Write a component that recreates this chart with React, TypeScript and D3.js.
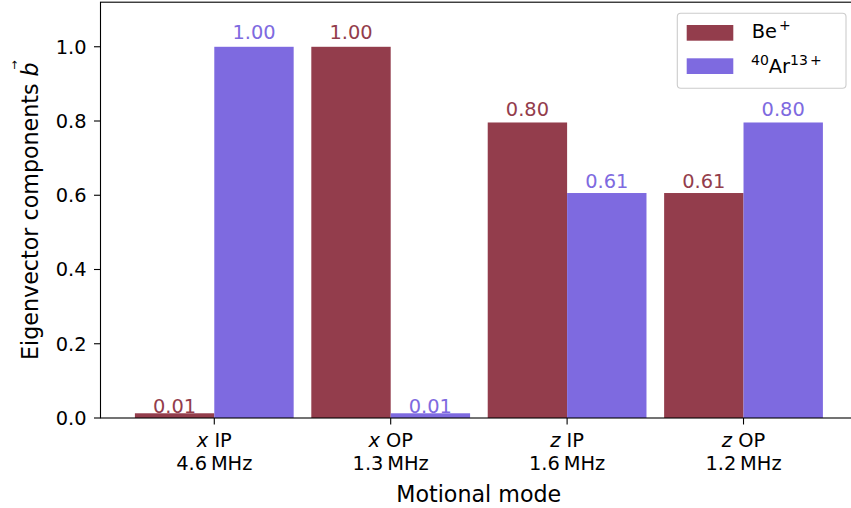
import React from 'react';
import * as d3 from 'd3';

// Motional modes of the two-ion crystal
const modeAxes = ['x', 'x', 'z', 'z'];
const modeKinds = ['IP', 'OP', 'IP', 'OP'];
const modeFreqs = ['4.6', '1.3', '1.6', '1.2'];

// Eigenvector components per ion species
const beValues = [0.0127, 0.9999, 0.796, 0.606];
const arValues = [0.9999, 0.0127, 0.606, 0.796];

const yTicks = [0, 0.2, 0.4, 0.6, 0.8, 1.0];

const BE_COLOR = '#933d4c';
const AR_COLOR = '#7e6ae0';
const FONT = '"DejaVu Sans", sans-serif';

const W = 851;
const H = 508;
const left = 100.5;
const right = 857.3;
const top = 2.2;
const bottom = 418;
const barWidth = 0.45;

export default function App() {
  const x = d3.scaleLinear().domain([-0.645, 3.645]).range([left, right]);
  const y = d3.scaleLinear().domain([0, 1.12]).range([bottom, top]);

  const series = [
    { name: 'be', values: beValues, color: BE_COLOR, offset: -barWidth },
    { name: 'ar', values: arValues, color: AR_COLOR, offset: 0 },
  ];

  return (
    <svg
      width={W}
      height={H}
      style={{ position: 'absolute', left: 0, top: 0, background: '#fff' }}
      fontFamily={FONT}
    >
      {/* bars and their value labels */}
      {series.map((s) =>
        s.values.map((v, i) => {
          const x0 = x(i + s.offset);
          const x1 = x(i + s.offset + barWidth);
          return (
            <g key={s.name + i}>
              <rect x={x0} y={y(v)} width={x1 - x0} height={y(0) - y(v)} fill={s.color} />
              <text
                x={(x0 + x1) / 2}
                y={y(v * 1.021)}
                textAnchor="middle"
                fontSize={19.4}
                fill={s.color}
              >
                {v.toFixed(2)}
              </text>
            </g>
          );
        })
      )}

      {/* frame */}
      <rect x={left} y={top} width={right - left} height={bottom - top} fill="none" stroke="#000" strokeWidth={1.1} />

      {/* y axis */}
      {yTicks.map((t) => (
        <g key={t}>
          <line x1={left - 6.5} x2={left} y1={y(t)} y2={y(t)} stroke="#000" strokeWidth={1.1} />
          <text x={left - 14} y={y(t)} dy="0.36em" textAnchor="end" fontSize={19.4} fill="#000">
            {t.toFixed(1)}
          </text>
        </g>
      ))}

      {/* x axis */}
      {modeAxes.map((a, i) => (
        <g key={i}>
          <line x1={x(i)} x2={x(i)} y1={bottom} y2={bottom + 6.5} stroke="#000" strokeWidth={1.1} />
          <text x={x(i)} y={446.7} textAnchor="middle" fontSize={19.4} fill="#000">
            <tspan fontStyle="italic">{a}</tspan>
            <tspan>{' ' + modeKinds[i]}</tspan>
          </text>
          <text x={x(i)} y={470} textAnchor="middle" fontSize={19.4} fill="#000">
            {modeFreqs[i] + '\u2009MHz'}
          </text>
        </g>
      ))}

      {/* axis titles */}
      <text x={(left + 743) / 2 + 57} y={501.7} textAnchor="middle" fontSize={22.2} fill="#000">
        Motional mode
      </text>
      <g transform={`translate(37.7, ${(top + bottom) / 2 + 1})`}>
        <g transform="rotate(-90)">
          <text x={0} y={0} textAnchor="middle" fontSize={22.2} fill="#000">
            <tspan>Eigenvector components </tspan>
            <tspan fontStyle="italic">b</tspan>
          </text>
          <text x={146} y={-20} textAnchor="middle" fontSize={11} fill="#000">
            →
          </text>
        </g>
      </g>

      {/* legend */}
      <rect
        x={677.3}
        y={13.3}
        width={168.7}
        height={75}
        rx={3.5}
        fill="#fff"
        fillOpacity={0.8}
        stroke="#cccccc"
        strokeWidth={1.1}
      />
      <rect x={686.7} y={25} width={46.6} height={15.7} fill={BE_COLOR} />
      <rect x={686.7} y={58.3} width={46.6} height={15.7} fill={AR_COLOR} />
      <text x={751.7} y={38.3} fontSize={19.4} fill="#000">
        <tspan>Be</tspan>
        <tspan dx={2} dy={-8} fontSize={14}>+</tspan>
      </text>
      <text x={751} y={72.7} fontSize={19.4} fill="#000">
        <tspan dy={-7.7} fontSize={14}>40</tspan>
        <tspan dy={7.7}>Ar</tspan>
        <tspan dy={-7.7} fontSize={14}>13</tspan>
        <tspan dx={2} fontSize={14}>+</tspan>
      </text>
    </svg>
  );
}
